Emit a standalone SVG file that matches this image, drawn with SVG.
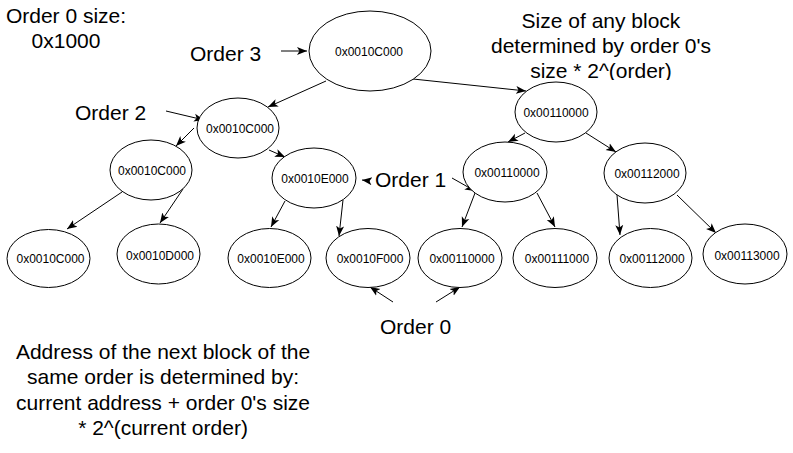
<svg xmlns="http://www.w3.org/2000/svg" width="793" height="453" viewBox="0 0 793 453">
<style>
.n{fill:#fff;stroke:#000;stroke-width:1}
.t{font-family:"Liberation Sans",Arial,sans-serif;font-size:12px;text-anchor:middle;fill:#000}
.l{font-family:"Liberation Sans",Arial,sans-serif;font-size:21px;fill:#000}
.c{text-anchor:middle}
.e{stroke:#000;stroke-width:1;fill:none;marker-end:url(#a)}
</style>
<defs>
<marker id="a" markerUnits="userSpaceOnUse" markerWidth="10" markerHeight="10" viewBox="0 0 10 10" refX="10" refY="5" orient="auto">
<path d="M0,1 L10,5 L0,9 L2.5,5 z" fill="#000"/>
</marker>
<clipPath id="clipTR"><rect x="450" y="0" width="343" height="80"/></clipPath>
</defs>
<rect width="793" height="453" fill="#fff"/>
<g id="connectors">
<line class="e" x1="326" y1="81" x2="268" y2="107"/>
<line class="e" x1="413" y1="79" x2="526" y2="91"/>
<line class="e" x1="194" y1="128" x2="176" y2="146"/>
<line class="e" x1="269" y1="150" x2="285" y2="157"/>
<line class="e" x1="525" y1="133" x2="508" y2="142"/>
<line class="e" x1="586" y1="133" x2="616" y2="152"/>
<line class="e" x1="122" y1="192" x2="67" y2="229"/>
<line class="e" x1="183" y1="189" x2="160" y2="223"/>
<line class="e" x1="285" y1="201" x2="271" y2="227"/>
<line class="e" x1="343" y1="200" x2="339" y2="236"/>
<line class="e" x1="475" y1="193" x2="462" y2="227"/>
<line class="e" x1="537" y1="193" x2="555" y2="227"/>
<line class="e" x1="617" y1="195" x2="620" y2="235"/>
<line class="e" x1="677" y1="195" x2="716" y2="233"/>
<line class="e" x1="281" y1="51" x2="307" y2="51"/>
<line class="e" x1="166" y1="111" x2="204" y2="120"/>
<line class="e" x1="370" y1="181" x2="362" y2="180"/>
<line class="e" x1="452" y1="178" x2="475" y2="191"/>
<line class="e" x1="393" y1="302" x2="370" y2="287"/>
<line class="e" x1="436" y1="302" x2="460" y2="287"/>
</g>
<g id="n-root"><ellipse class="n" cx="370" cy="51" rx="61" ry="40"/><text class="t" x="369" y="56">0x0010C000</text></g>
<g id="n-o2a"><ellipse class="n" cx="238" cy="128" rx="41" ry="30"/><text class="t" x="240" y="133">0x0010C000</text></g>
<g id="n-o2b"><ellipse class="n" cx="556" cy="112" rx="41" ry="30"/><text class="t" x="556" y="117">0x00110000</text></g>
<g id="n-o1a"><ellipse class="n" cx="151" cy="170" rx="41" ry="30"/><text class="t" x="152" y="175">0x0010C000</text></g>
<g id="n-o1b"><ellipse class="n" cx="314" cy="178" rx="42" ry="30"/><text class="t" x="315" y="183">0x0010E000</text></g>
<g id="n-o1c"><ellipse class="n" cx="505" cy="172" rx="42" ry="30"/><text class="t" x="507" y="177">0x00110000</text></g>
<g id="n-o1d"><ellipse class="n" cx="645" cy="173" rx="41" ry="30"/><text class="t" x="647" y="178">0x00112000</text></g>
<g id="n-l1"><ellipse class="n" cx="48.5" cy="258.5" rx="41.5" ry="29"/><text class="t" x="50.5" y="263">0x0010C000</text></g>
<g id="n-l2"><ellipse class="n" cx="158.5" cy="254" rx="41.5" ry="30"/><text class="t" x="160" y="260">0x0010D000</text></g>
<g id="n-l3"><ellipse class="n" cx="269.5" cy="258" rx="41.5" ry="29.5"/><text class="t" x="271" y="263">0x0010E000</text></g>
<g id="n-l4"><ellipse class="n" cx="368" cy="258" rx="42" ry="29.5"/><text class="t" x="370" y="263">0x0010F000</text></g>
<g id="n-l5"><ellipse class="n" cx="460" cy="258" rx="42" ry="29.5"/><text class="t" x="462" y="263">0x00110000</text></g>
<g id="n-l6"><ellipse class="n" cx="555" cy="258" rx="42" ry="29.5"/><text class="t" x="557" y="263">0x00111000</text></g>
<g id="n-l7"><ellipse class="n" cx="650.5" cy="258" rx="41.5" ry="29.5"/><text class="t" x="652" y="263">0x00112000</text></g>
<g id="n-l8"><ellipse class="n" cx="745" cy="254" rx="42" ry="30"/><text class="t" x="747" y="260">0x00113000</text></g>
<g id="labels">
<text class="l c" x="66" y="23">Order 0 size:</text>
<text class="l c" x="66" y="48">0x1000</text>
<text class="l" x="190" y="61">Order 3</text>
<text class="l" x="75" y="120">Order 2</text>
<text class="l" x="375" y="187">Order 1</text>
<text class="l" x="380" y="334">Order 0</text>
<g clip-path="url(#clipTR)">
<text class="l c" x="601" y="28">Size of any block</text>
<text class="l c" x="601" y="53">determined by order 0's</text>
<text class="l c" x="601" y="78">size * 2^(order)</text>
</g>
<text class="l c" x="163" y="359">Address of the next block of the</text>
<text class="l c" x="163" y="384">same order is determined by:</text>
<text class="l c" x="163" y="410">current address + order 0's size</text>
<text class="l c" x="163" y="435">* 2^(current order)</text>
</g>
</svg>
